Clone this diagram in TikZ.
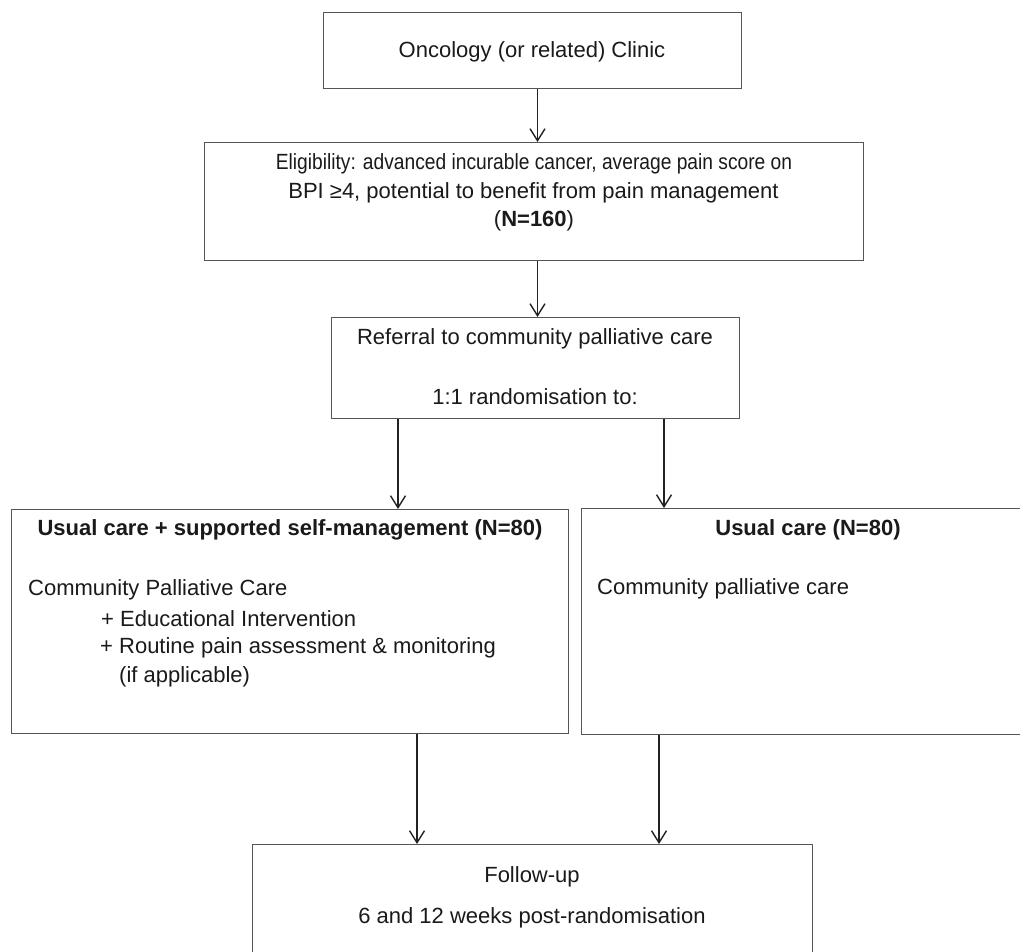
\documentclass[tikz,border=0pt]{standalone}
\usepackage{fontspec}
\setmainfont{Liberation Sans}
\usetikzlibrary{arrows.meta}
\definecolor{boxline}{HTML}{555555}
\definecolor{arrline}{HTML}{222222}
\definecolor{txtc}{HTML}{1A1A1A}
\begin{document}
\begin{tikzpicture}[x=1pt,y=-1pt,
  box/.style={draw=boxline,line width=1.3pt,inner sep=0pt,anchor=north west},
  txt/.style={font=\fontsize{22pt}{28pt}\selectfont,text=txtc,inner sep=0pt},
  ltxt/.style={txt,anchor=west},
  arr/.style={draw=arrline,line width=1.4pt,-{Straight Barb[length=12pt,width=15pt]}}
]
\useasboundingbox (0,0) rectangle (1020,952);
\fill[white] (0,0) rectangle (1020,952);
\clip (0,0) rectangle (1020,952);

% boxes
\node[box,minimum width=418pt,minimum height=76pt] (b1) at (323,12) {};
\node[box,minimum width=659pt,minimum height=118pt] (b2) at (204,142) {};
\node[box,minimum width=408pt,minimum height=101pt] (b3) at (331,317) {};
\node[box,minimum width=557pt,minimum height=224pt] (b4) at (11,509) {};
\node[box,minimum width=454pt,minimum height=226pt] (b5) at (581,508) {};
\node[box,minimum width=560pt,minimum height=140pt] (b6) at (252,844) {};

% texts
\node[txt] (t1) at (532,52) {Oncology (or related) Clinic};
\node[txt] (t2a) at (534,164) {\scalebox{0.873}[1]{Eligibility: advanced incurable cancer, average pain score on}};
\node[txt] (t2b) at (533.5,193) {BPI ≥4, potential to benefit from pain management};
\node[txt] (t2c) at (534,221) {(\textbf{N=160})};
\node[txt] (t3a) at (535,339) {Referral to community palliative care};
\node[txt] (t3b) at (535,397) {1:1 randomisation to:};
\node[txt] (t4a) at (290,530) {\textbf{Usual care + supported self-management (N=80)}};
\node[ltxt] (t4b) at (28,590) {Community Palliative Care};
\node[ltxt] (t4c) at (101,619) {+ Educational Intervention};
\node[ltxt] (t4d) at (100,648) {+ Routine pain assessment \& monitoring};
\node[ltxt] (t4e) at (119,677) {(if applicable)};
\node[txt] (t5a) at (808,530) {\textbf{Usual care (N=80)}};
\node[ltxt] (t5b) at (597,589) {Community palliative care};
\node[txt] (t6a) at (532,877) {Follow-up};
\node[txt] (t6b) at (532,918) {6 and 12 weeks post-randomisation};

% connector x positions
\coordinate (xa) at (537.5,0);
\coordinate (xl) at (398,0);
\coordinate (xr) at (664,0);
\coordinate (xbl) at (417,0);
\coordinate (xbr) at (659,0);

\draw[arr] (b1.south -| xa) -- (b2.north -| xa);
\draw[arr] (b2.south -| xa) -- (b3.north -| xa);
\draw[arr] (b3.south -| xl) -- (b4.north -| xl);
\draw[arr] (b3.south -| xr) -- (b5.north -| xr);
\draw[arr] (b4.south -| xbl) -- (b6.north -| xbl);
\draw[arr] (b5.south -| xbr) -- (b6.north -| xbr);
\end{tikzpicture}
\end{document}
